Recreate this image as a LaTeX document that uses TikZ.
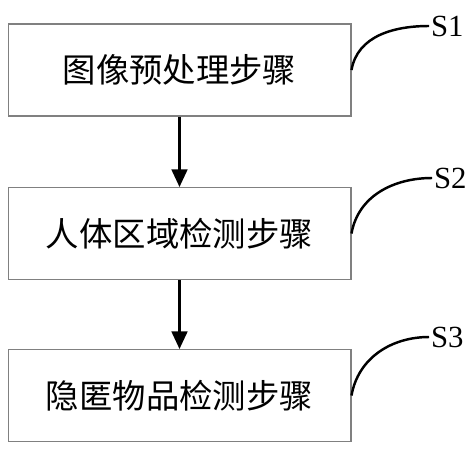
\documentclass[tikz,border=0pt]{standalone}
\usepackage{fontspec}
\setmainfont{Liberation Serif}
\newfontfamily\cjk{Noto Sans CJK SC}
\usepackage{tikz}
\usetikzlibrary{arrows.meta,positioning}

\begin{document}
\begin{tikzpicture}[x=0.02cm,y=-0.02cm,
  stepbox/.style={rectangle,draw=gray,line width=0.6pt,minimum width=6.86cm,
                  minimum height=1.84cm,align=center,font=\cjk\fontsize{19}{22}\selectfont},
  tag/.style={anchor=west,inner sep=1pt,font=\fontsize{17.5}{20}\selectfont},
  arr/.style={-{Triangle[length=10pt,width=9pt]},line width=1.3pt},
  lead/.style={line width=1.4pt}
]
  \useasboundingbox (0,0) rectangle (472,450);
  \node[stepbox](b1) at (179.5,70)  {图像预处理步骤};
  \node[stepbox](b2) at (179.5,233.5){人体区域检测步骤};
  \node[stepbox](b3) at (179.5,395.5){隐匿物品检测步骤};

  \node[tag](s1) at (429,26) {S1};
  \node[tag](s2) at (432,178){S2};
  \node[tag](s3) at (429,337){S3};

  \draw[arr](b1)--(b2);\draw[arr](b2)--(b3);
  \draw[lead](b1.east)to[out=80,in=180](s1.west);
  \draw[lead](b2.east)to[out=80,in=180](s2.west);
  \draw[lead](b3.east)to[out=80,in=180](s3.west);
\end{tikzpicture}
\end{document}
